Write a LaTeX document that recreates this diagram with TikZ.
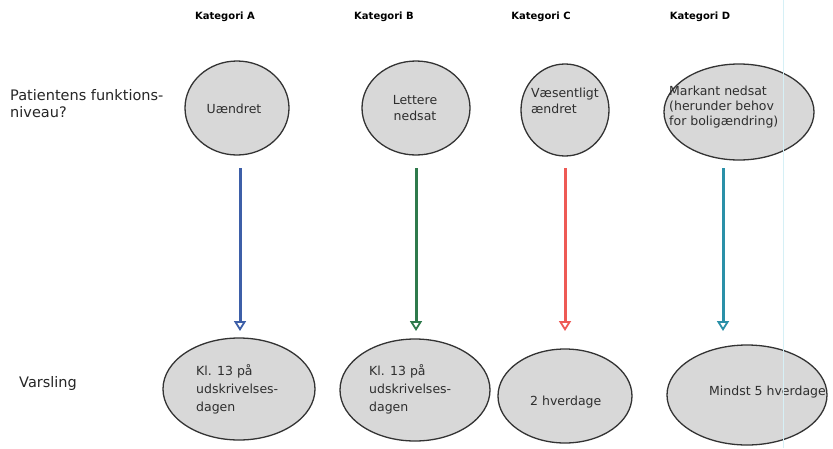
\documentclass[tikz,border=0pt]{standalone}
\usepackage{fontspec}
\setmainfont{DejaVu Sans}
\usetikzlibrary{shapes.geometric,arrows.meta}
\definecolor{fillgray}{HTML}{D8D8D8}
\definecolor{txtgray}{HTML}{2E2E2E}
\definecolor{arA}{HTML}{3D5FA8}
\definecolor{arB}{HTML}{2F7A4C}
\definecolor{arC}{HTML}{EE5A55}
\definecolor{arD}{HTML}{2A90A8}
\definecolor{edgeline}{HTML}{D6F0F6}
\tikzset{
  bubble/.style={ellipse, draw=black!80, line width=1.3pt, fill=fillgray, inner sep=0pt},
  ctext/.style={font=\fontsize{12.5}{16}\selectfont, text=txtgray, align=left, inner sep=0pt},
  cattext/.style={font=\fontsize{10}{12}\selectfont\bfseries, text=black, inner sep=0pt},
  sidetext/.style={font=\fontsize{14.5}{17}\selectfont, text=black!85, align=left, inner sep=0pt, anchor=west},
  flow/.style={line width=3pt, -{Triangle[open, width=12pt, length=10pt, line width=1.8pt]}}
}
\begin{document}
\begin{tikzpicture}[x=1pt,y=-1pt]
\useasboundingbox (0,0) rectangle (833,448);
\fill[white] (0,0) rectangle (833,448);
% category labels
\node[cattext] (ka) at (225,17) {Kategori A};
\node[cattext] (kb) at (384,17) {Kategori B};
\node[cattext] (kc) at (541,17) {Kategori C};
\node[cattext] (kd) at (700,17) {Kategori D};
% side labels
\node[sidetext] (pf) at (10,104) {Patientens funktions-\\niveau?};
\node[sidetext] (va) at (19,383) {Varsling};
% top bubbles
\node[bubble, minimum width=104pt, minimum height=94pt] (ta) at (237,108) {};
\node[bubble, minimum width=108pt, minimum height=94pt] (tb) at (416,108) {};
\node[bubble, minimum width=88pt, minimum height=92pt] (tc) at (565,110) {};
\node[bubble, minimum width=150pt, minimum height=96pt] (td) at (739,112) {};
\node[ctext] (tat) at (234,109) {Uændret};
\node[ctext, align=center] (tbt) at (415,108) {Lettere\\nedsat};
\node[ctext] (tct) at (565,101) {Væsentligt\\ændret};
\node[ctext, anchor=west, font=\fontsize{12.5}{15}\selectfont] (tdt) at (669,107) {Markant nedsat\\(herunder behov\\for boligændring)};
% bottom bubbles
\node[bubble, minimum width=152pt, minimum height=102pt] (ba) at (239,389) {};
\node[bubble, minimum width=150pt, minimum height=102pt] (bb) at (415,390) {};
\node[bubble, minimum width=134pt, minimum height=94pt] (bc) at (565,396) {};
\node[bubble, minimum width=160pt, minimum height=100pt] (bd) at (747,395) {};
\node[ctext, anchor=west, font=\fontsize{12.5}{18}\selectfont] (bat) at (196,389) {Kl. 13 på\\udskrivelses-\\dagen};
\node[ctext, anchor=west, font=\fontsize{12.5}{18}\selectfont] (bbt) at (369,389) {Kl. 13 på\\udskrivelses-\\dagen};
\node[ctext, anchor=west] (bct) at (530,402) {2 hverdage};
\node[ctext, anchor=west] (bdt) at (709,392) {Mindst 5 hverdage};
% arrows
\coordinate (sa) at (240,168); \coordinate (ea) at (240,331);
\coordinate (sb) at (416,168); \coordinate (eb) at (416,331);
\coordinate (sc) at (565,168); \coordinate (ec) at (565,331);
\coordinate (sd) at (723,168); \coordinate (ed) at (723,331);
\draw[flow, arA] (sa) -- (ea);
\draw[flow, arB] (sb) -- (eb);
\draw[flow, arC] (sc) -- (ec);
\draw[flow, arD] (sd) -- (ed);
% faint page edge line
\coordinate (el1) at (783,0); \coordinate (el2) at (783,448);
\draw[edgeline, line width=1pt] (el1) -- (el2);
\end{tikzpicture}
\end{document}
